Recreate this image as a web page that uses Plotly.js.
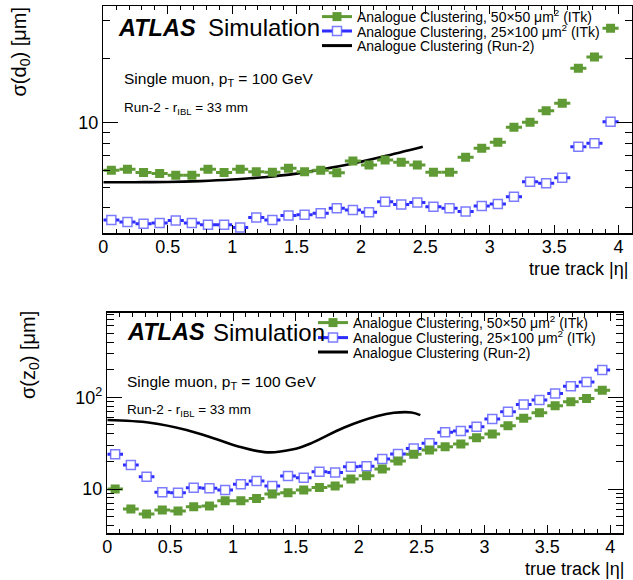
<!DOCTYPE html>
<html>
<head>
<meta charset="utf-8">
<script src="https://cdn.plot.ly/plotly-3.0.1.min.js"></script>
<style>html,body{margin:0;padding:0;background:#fff;}#chart{width:633px;height:580px;}</style>
</head>
<body>
<div id="chart"></div>
<script>
// ---- data ----
const etaBins = [0.0625, 0.1875, 0.3125, 0.4375, 0.5625, 0.6875, 0.8125, 0.9375,
  1.0625, 1.1875, 1.3125, 1.4375, 1.5625, 1.6875, 1.8125, 1.9375,
  2.0625, 2.1875, 2.3125, 2.4375, 2.5625, 2.6875, 2.8125, 2.9375,
  3.0625, 3.1875, 3.3125, 3.4375, 3.5625, 3.6875, 3.8125, 3.9375];
const binHalfWidth = 0.0625;

// sigma(d0) [um]
const d0_50x50 = [6.0, 6.05, 5.85, 5.79, 5.68, 5.68, 6.05, 5.85, 6.05, 5.9, 5.86, 6.12,
  5.9, 6.0, 5.84, 6.62, 6.34, 6.69, 6.53, 6.34, 5.86, 5.86, 6.89, 7.59,
  8.10, 9.52, 10.04, 11.38, 12.32, 17.96, 20.3, 27.6];
const d0_25x100 = [3.51, 3.43, 3.37, 3.40, 3.49, 3.40, 3.33, 3.33, 3.24, 3.6, 3.51, 3.68,
  3.71, 3.77, 3.98, 3.91, 3.81, 4.27, 4.15, 4.24, 4.05, 3.98, 3.84, 4.08,
  4.17, 4.51, 5.30, 5.21, 5.53, 7.72, 8.01, 10.1];
const d0_run2_eta = [0, 0.25, 0.5, 0.75, 1.0, 1.14, 1.25, 1.5, 1.66, 1.92, 2.17, 2.48];
const d0_run2 = [5.27, 5.27, 5.28, 5.33, 5.42, 5.5, 5.56, 5.78, 6.0, 6.41, 6.94, 7.72];

// sigma(z0) [um]
const z0_50x50 = [10.0, 6.05, 5.34, 5.9, 5.75, 6.41, 6.52, 7.46, 7.46, 7.9, 8.8, 9.1,
  9.75, 10.4, 10.8, 12.85, 13.96, 16.5, 20.2, 23.9, 26.6, 28.9, 30.9, 36.3,
  39.8, 48.9, 59.1, 67.9, 81.0, 89.3, 97.3, 119.6];
const z0_25x100 = [23.9, 18.3, 13.6, 9.2, 9.1, 10.3, 10.2, 9.75, 11.3, 12.2, 10.8, 13.9,
  13.3, 15.4, 15.1, 17.5, 17.7, 21.2, 24.1, 27.7, 31.5, 41.6, 42.9, 47.7,
  58.0, 69.6, 83.6, 93.2, 110.3, 132, 147, 198];
const z0_run2_eta = [0, 0.34, 0.63, 0.87, 1.05, 1.27, 1.48, 1.62, 1.88, 2.15, 2.28, 2.42, 2.49];
const z0_run2 = [56.5, 52.8, 44, 34.8, 28.9, 25.1, 27.1, 31.5, 46.6, 62.5, 67.8, 68.3, 64];

const seriesNames = [
  'Analogue Clustering, 50×50 μm<sup>2</sup> (ITk)',
  'Analogue Clustering, 25×100 μm<sup>2</sup> (ITk)',
  'Analogue Clustering (Run-2)'
];
const xTickLabels = ['0', '0.5', '1', '1.5', '2', '2.5', '3', '3.5', '4'];

// ---- styles ----
const FONT = 'Liberation Sans, Arial, Helvetica, sans-serif';
const GREEN = '#5f9a34';
const BLUE_BAR = '#2d2dff';
const BLUE_EDGE = 'rgba(90,90,255,0.8)';

function greenTrace(y, xa, ya) {
  return {x: etaBins, y: y, xaxis: xa, yaxis: ya, type: 'scatter', mode: 'markers',
    marker: {symbol: 'square', size: 9, color: GREEN},
    error_x: {type: 'constant', value: binHalfWidth, width: 0, thickness: 3, color: GREEN},
    showlegend: false, hoverinfo: 'x+y'};
}
function blueTrace(y, xa, ya) {
  return {x: etaBins, y: y, xaxis: xa, yaxis: ya, type: 'scatter', mode: 'markers',
    marker: {symbol: 'square', size: 9, color: 'white', line: {color: BLUE_EDGE, width: 1.5}},
    error_x: {type: 'constant', value: binHalfWidth, width: 0, thickness: 3, color: BLUE_BAR},
    showlegend: false, hoverinfo: 'x+y'};
}
function blackTrace(x, y, xa, ya) {
  return {x: x, y: y, xaxis: xa, yaxis: ya, type: 'scatter', mode: 'lines',
    line: {color: 'black', width: 2.6, shape: 'spline', smoothing: 1},
    showlegend: false, hoverinfo: 'x+y'};
}
// legend entries (no data of their own)
function legendEntry(kind, name, legendId, xa, ya) {
  const t = {x: [null], y: [null], xaxis: xa, yaxis: ya, type: 'scatter', name: name,
    legend: legendId, showlegend: true};
  if (kind === 0) { t.mode = 'lines+markers'; t.line = {color: GREEN, width: 3};
    t.marker = {symbol: 'square', size: 9, color: GREEN}; }
  if (kind === 1) { t.mode = 'lines+markers'; t.line = {color: BLUE_BAR, width: 3};
    t.marker = {symbol: 'square', size: 9, color: 'white', line: {color: BLUE_EDGE, width: 1.5}}; }
  if (kind === 2) { t.mode = 'lines'; t.line = {color: 'black', width: 3}; }
  return t;
}

const data = [
  blackTrace(d0_run2_eta, d0_run2, 'x', 'y'),
  blueTrace(d0_25x100, 'x', 'y'),
  greenTrace(d0_50x50, 'x', 'y'),
  blackTrace(z0_run2_eta, z0_run2, 'x2', 'y2'),
  blueTrace(z0_25x100, 'x2', 'y2'),
  greenTrace(z0_50x50, 'x2', 'y2'),
  legendEntry(0, seriesNames[0], 'legend', 'x', 'y'),
  legendEntry(1, seriesNames[1], 'legend2', 'x', 'y'),
  legendEntry(2, seriesNames[2], 'legend3', 'x', 'y'),
  legendEntry(0, seriesNames[0], 'legend4', 'x2', 'y2'),
  legendEntry(1, seriesNames[1], 'legend5', 'x2', 'y2'),
  legendEntry(2, seriesNames[2], 'legend6', 'x2', 'y2')
];

const W = 633, H = 580;
const px = v => v / W;
const py = v => 1 - v / H;

function xAxis(domain, anchor) {
  return {domain: domain, anchor: anchor, range: [0, 4.1], showgrid: false, zeroline: false,
    showline: true, linecolor: 'black', linewidth: 1.5, mirror: 'allticks',
    ticks: 'inside', ticklen: 8, tickwidth: 1, tickcolor: 'black',
    tickmode: 'array', tickvals: xTickLabels.map(Number), ticktext: xTickLabels,
    ticklabelstandoff: -3,
    minor: {ticks: 'inside', ticklen: 4, tickwidth: 1, tickcolor: 'black', dtick: 0.1, tick0: 0, showgrid: false},
    tickfont: {family: FONT, size: 18, color: 'black'}};
}
function yAxis(domain, anchor, range, tv, tt, minorVals) {
  return {domain: domain, anchor: anchor, type: 'log', range: range, showgrid: false, zeroline: false,
    showline: true, linecolor: 'black', linewidth: 1.5, mirror: 'allticks',
    ticks: 'inside', ticklen: 15, tickwidth: 1, tickcolor: 'black',
    tickmode: 'array', tickvals: tv, ticktext: tt,
    minor: {ticks: 'inside', ticklen: 7, tickwidth: 1, tickcolor: 'black', tickmode: 'array', tickvals: minorVals, showgrid: false},
    tickfont: {family: FONT, size: 18, color: 'black'}};
}

function legendAt(xpx, ypx) {
  return {x: px(xpx), y: py(ypx), xanchor: 'left', yanchor: 'middle', bgcolor: 'rgba(0,0,0,0)',
    borderwidth: 0, font: {family: FONT, size: 14, color: 'black'}, itemwidth: 30, tracegroupgap: 0};
}

function ann(text, xpx, ypx, size, opts) {
  return Object.assign({text: text, x: px(xpx), y: py(ypx), xref: 'paper', yref: 'paper',
    showarrow: false, xanchor: 'left', yanchor: 'middle',
    font: {family: FONT, size: size, color: 'black'}}, opts || {});
}

const layout = {
  width: W, height: H,
  margin: {l: 0, r: 0, t: 0, b: 0},
  paper_bgcolor: 'white', plot_bgcolor: 'white',
  font: {family: FONT, color: 'black'},
  xaxis: xAxis([px(103.3), px(631.5)], 'y'),
  yaxis: yAxis([py(233.3), py(6)], 'x', [Math.log10(3.04), Math.log10(35.1)],
    [10], ['10'], [4, 5, 6, 7, 8, 9, 20, 30]),
  xaxis2: xAxis([px(107.3), px(622.7)], 'y2'),
  yaxis2: yAxis([py(533.3), py(312.7)], 'x2', [Math.log10(3.29), Math.log10(837)],
    [10, 100], ['10', '10<sup>2</sup>'],
    [4, 5, 6, 7, 8, 9, 20, 30, 40, 50, 60, 70, 80, 90, 200, 300, 400, 500, 600, 700, 800]),
  legend: legendAt(317, 17),
  legend2: legendAt(317, 31.5),
  legend3: legendAt(317, 46),
  legend4: legendAt(313, 323),
  legend5: legendAt(313, 338),
  legend6: legendAt(313, 352.5),
  annotations: [
    ann('<b><i>ATLAS</i></b>', 116, 28, 23.5),
    ann('Simulation', 206, 28, 24),
    ann('Single muon, p<sub>T</sub> = 100 GeV', 122, 79, 15.5),
    ann('Run-2 - r<sub>IBL</sub> = 33 mm', 122, 109, 13.5),
    ann('<b><i>ATLAS</i></b>', 125, 332, 23.5),
    ann('Simulation', 211, 332, 24),
    ann('Single muon, p<sub>T</sub> = 100 GeV', 125, 382, 15.5),
    ann('Run-2 - r<sub>IBL</sub> = 33 mm', 125, 410, 13.5),
    ann('σ(d<sub>0</sub>) [μm]', 20, 6, 20, {textangle: -90, xanchor: 'center', yanchor: 'top'}),
    ann('σ(z<sub>0</sub>) [μm]', 29, 309, 20, {textangle: -90, xanchor: 'center', yanchor: 'top'}),
    ann('true track |η|', 630, 269, 18, {xanchor: 'right'}),
    ann('true track |η|', 626, 569, 18, {xanchor: 'right'})
  ]
};

Plotly.newPlot('chart', data, layout, {staticPlot: true, displayModeBar: false});
</script>
</body>
</html>
